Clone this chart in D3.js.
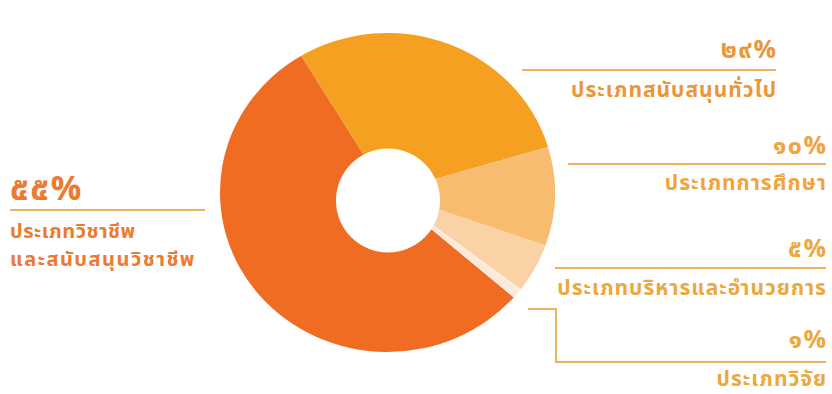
<!DOCTYPE html>
<html>
<head>
<meta charset="utf-8">
<script src="https://cdn.jsdelivr.net/npm/d3@7"></script>
<style>
  html, body { margin: 0; padding: 0; background: #ffffff; }
  svg { display: block; }
  text { font-family: "Noto Sans Thai", "Noto Sans Thai UI", "Loma", "Garuda", "Tlwg Typo", "Noto Sans", sans-serif; font-weight: 700; }
</style>
</head>
<body>
<svg id="chart" width="832" height="394"></svg>
<script>
// Staff share by category (percent)
const categories = [
  "ประเภทวิชาชีพและสนับสนุนวิชาชีพ",
  "ประเภทสนับสนุนทั่วไป",
  "ประเภทการศึกษา",
  "ประเภทบริหารและอำนวยการ",
  "ประเภทวิจัย"
];
const values = [55, 29, 10, 5, 1];
const valueLabels = ["๕๕%", "๒๙%", "๑๐%", "๕%", "๑%"];
const colors = ["#F06C22", "#F5A020", "#F7BC6F", "#F9D2A5", "#FBE9DA"];

const svg = d3.select("#chart");

// ---- donut ----
const cx = 387.5, cy = 192.5, rx = 167.5, ry = 159.5;
const holeX = 388, holeY = 200.5, holeR = 52;

const pie = d3.pie().sort(null).value(d => d)
  .startAngle(131 * Math.PI / 180)
  .endAngle(131 * Math.PI / 180 + 2 * Math.PI);
const arc = d3.arc().innerRadius(0).outerRadius(rx);

const g = svg.append("g")
  .attr("transform", `translate(${cx},${cy}) scale(1,${ry / rx})`);

g.selectAll("path.slice")
  .data(pie(values))
  .join("path")
  .attr("class", "slice")
  .attr("d", arc)
  .attr("fill", (d, i) => colors[i])
  .attr("stroke", (d, i) => i === 4 ? "#FDF3EA" : "none")
  .attr("stroke-width", 1);

svg.append("circle")
  .attr("cx", holeX).attr("cy", holeY).attr("r", holeR)
  .attr("fill", "#ffffff");

// ---- leader lines ----
const lineColor = "#EFB25E";
const leaders = [
  [[522, 70], [776, 70]],
  [[568, 164], [826, 164]],
  [[555, 268], [826, 268]],
  [[528, 309], [556, 309], [556, 362], [826, 362]],
  [[10, 210], [205, 210]]
];
const line = d3.line();
svg.selectAll("path.leader")
  .data(leaders)
  .join("path")
  .attr("class", "leader")
  .attr("d", line)
  .attr("fill", "none")
  .attr("stroke", lineColor)
  .attr("stroke-width", 2);

// ---- labels ----
// letter-spacing also pads the last glyph, so end-anchored text is nudged right by it
const pctSpacing = 1.5, nameSpacing = 1;
const rightLabels = [
  { i: 1, x: 776, yPct: 58, yName: 97, color: "#EC963A" },
  { i: 2, x: 826, yPct: 154, yName: 190, color: "#F0A43E" },
  { i: 3, x: 826, yPct: 257, yName: 295, color: "#EBA83C" },
  { i: 4, x: 826, yPct: 348, yName: 386, color: "#EBA83C" }
];
rightLabels.forEach(l => {
  svg.append("text")
    .attr("x", l.x + pctSpacing).attr("y", l.yPct)
    .attr("text-anchor", "end")
    .attr("font-size", 25)
    .attr("letter-spacing", pctSpacing)
    .attr("fill", l.color)
    .text(valueLabels[l.i]);
  svg.append("text")
    .attr("x", l.x + nameSpacing).attr("y", l.yName)
    .attr("text-anchor", "end")
    .attr("font-size", 21)
    .attr("letter-spacing", nameSpacing)
    .attr("fill", l.color)
    .text(categories[l.i]);
});

// left label (largest share)
svg.append("text")
  .attr("x", 10).attr("y", 200)
  .attr("font-size", 34)
  .attr("letter-spacing", 1.5)
  .attr("fill", "#EC7A30")
  .text(valueLabels[0]);
svg.append("text")
  .attr("x", 10).attr("y", 238)
  .attr("font-size", 20)
  .attr("letter-spacing", 0.5)
  .attr("fill", "#EC7A30")
  .text("ประเภทวิชาชีพ");
svg.append("text")
  .attr("x", 10).attr("y", 266)
  .attr("font-size", 20)
  .attr("letter-spacing", 1.5)
  .attr("fill", "#EC7A30")
  .text("และสนับสนุนวิชาชีพ");
</script>
</body>
</html>
